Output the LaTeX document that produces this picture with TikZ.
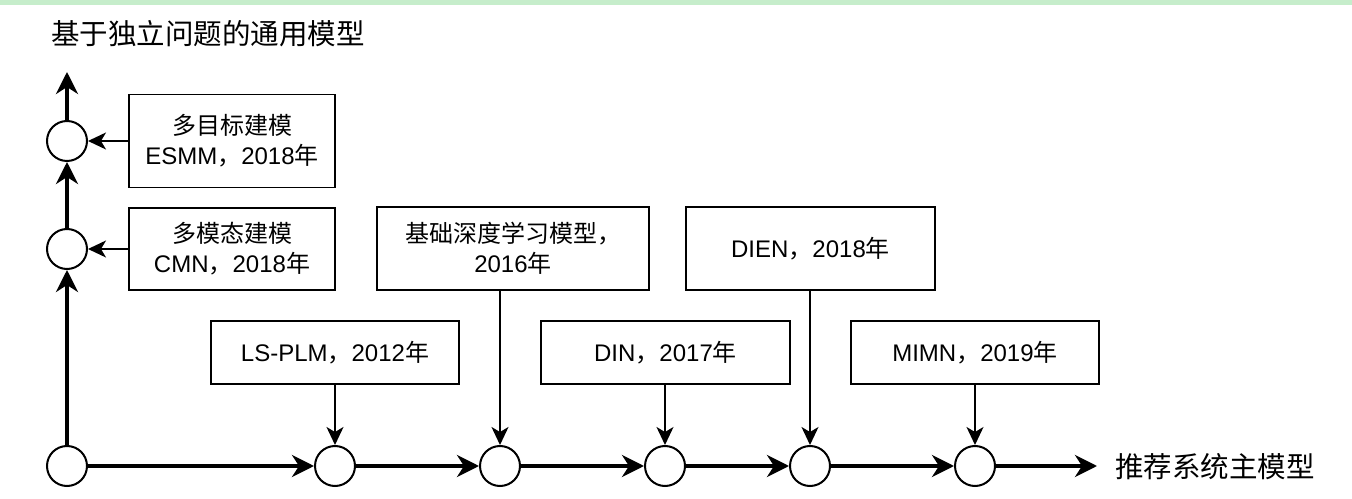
\documentclass[tikz,border=0pt]{standalone}
\usepackage{fontspec}
\setmainfont{Liberation Sans}
\newfontfamily\cjk{Noto Sans CJK SC}
\newcommand\zhs[1]{{\cjk #1}}
\usetikzlibrary{arrows.meta,calc}
\definecolor{stripgreen}{RGB}{198,237,203}
\tikzset{
  bigarr/.style={line width=3.6pt,-{Stealth[length=22pt,width=22pt,inset=7pt]}},
  smallarr/.style={line width=1.5pt,-{Stealth[length=18pt,width=17pt,inset=5pt]}},
  dot/.style={circle,draw,line width=2pt,minimum size=40pt,inner sep=0pt,fill=white},
  modelbox/.style={draw,line width=1.6pt,inner sep=0pt,align=center,
    font=\fontsize{24}{30}\selectfont},
  bigtext/.style={font=\cjk\fontsize{28.5}{32}\selectfont,inner sep=0pt}
}
\begin{document}
\begin{tikzpicture}[x=1pt,y=1pt]
\useasboundingbox (0,0) rectangle (1352,498);
\fill[white] (0,0) rectangle (1352,498);
\fill[stripgreen] (0,493) rectangle (1352,498);

\node[bigtext,anchor=west] (title) at (51,464) {基于独立问题的通用模型};

% circles
\node[dot] (c0) at (67,32) {};
\node[dot] (cM) at (67,249) {};
\node[dot] (cT) at (67,357) {};
\node[dot] (b1) at (335,32) {};
\node[dot] (b2) at (500,32) {};
\node[dot] (b3) at (665,32) {};
\node[dot] (b4) at (810,32) {};
\node[dot] (b5) at (975,32) {};
\coordinate (topend) at (67,426);
\coordinate (rend) at (1097,32);
\node[bigtext,anchor=west] (lab) at (1115,31) {推荐系统主模型};

% boxes
\node[modelbox,minimum width=206pt,minimum height=93pt] (esmm) at (232,357)
  {\zhs{多目标建模}\\ESMM\zhs{，}2018\zhs{年}};
\node[modelbox,minimum width=206pt,minimum height=82pt] (cmn) at (232,249)
  {\zhs{多模态建模}\\CMN\zhs{，}2018\zhs{年}};
\node[modelbox,minimum width=248pt,minimum height=63pt] (lsplm) at (335,145.5)
  {LS-PLM\zhs{，}2012\zhs{年}};
\node[modelbox,minimum width=272pt,minimum height=83pt] (deep) at (513,249.5)
  {\zhs{基础深度学习模型，}\\2016\zhs{年}};
\node[modelbox,minimum width=249pt,minimum height=63pt] (din) at (665.5,145.5)
  {DIN\zhs{，}2017\zhs{年}};
\node[modelbox,minimum width=249pt,minimum height=83pt] (dien) at (810.5,249.5)
  {DIEN\zhs{，}2018\zhs{年}};
\node[modelbox,minimum width=248pt,minimum height=63pt] (mimn) at (975,145.5)
  {MIMN\zhs{，}2019\zhs{年}};

% main axes
\draw[bigarr] (c0) -- (cM);
\draw[bigarr] (cM) -- (cT);
\draw[bigarr] (cT) -- (topend);
\draw[bigarr] (c0) -- (b1);
\draw[bigarr] (b1) -- (b2);
\draw[bigarr] (b2) -- (b3);
\draw[bigarr] (b3) -- (b4);
\draw[bigarr] (b4) -- (b5);
\draw[bigarr] (b5) -- (rend);

% connectors
\draw[smallarr] (esmm.west) -- (cT.east);
\draw[smallarr] (cmn.west) -- (cM.east);
\draw[smallarr] (b1 |- lsplm.south) -- (b1.north);
\draw[smallarr] (b2 |- deep.south) -- (b2.north);
\draw[smallarr] (b3 |- din.south) -- (b3.north);
\draw[smallarr] (b4 |- dien.south) -- (b4.north);
\draw[smallarr] (b5 |- mimn.south) -- (b5.north);
\end{tikzpicture}
\end{document}
